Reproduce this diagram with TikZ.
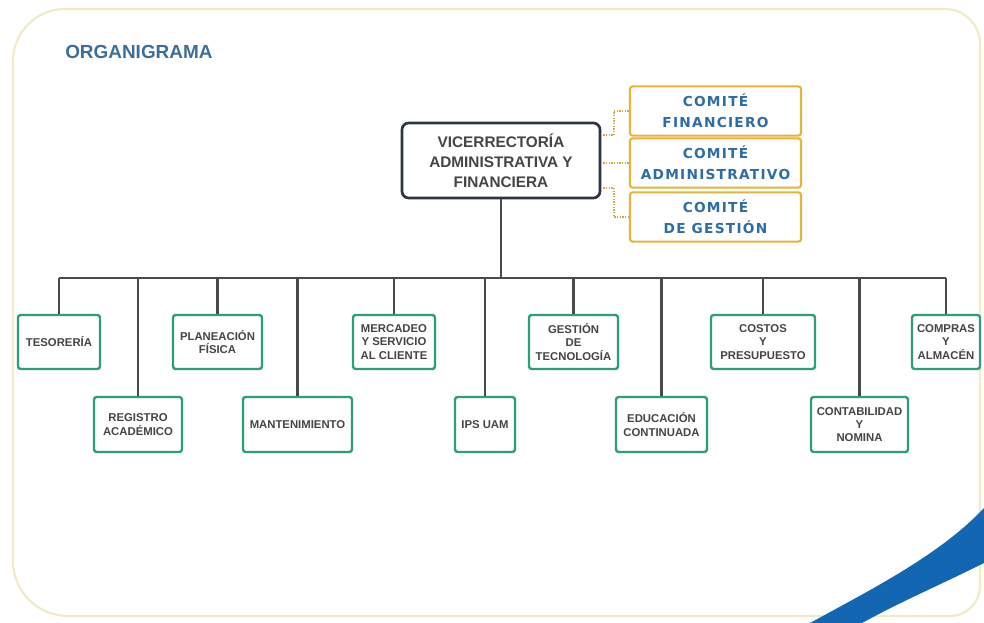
\documentclass[tikz,border=0pt]{standalone}
\usepackage{fontspec}
\setmainfont{Liberation Sans}
\newfontfamily\comfont[LetterSpace=9]{DejaVu Sans}
\usetikzlibrary{calc}
\definecolor{framec}{HTML}{F1EBC4}
\definecolor{titlec}{HTML}{3D6E9B}
\definecolor{vicec}{HTML}{2D3540}
\definecolor{goldc}{HTML}{E3B53A}
\definecolor{comtxt}{HTML}{2E6DA4}
\definecolor{tealc}{HTML}{2E9C7E}
\definecolor{txtg}{HTML}{454545}
\definecolor{linec}{HTML}{4A4A4A}
\definecolor{swoosh}{HTML}{1366B2}
\begin{document}
\begin{tikzpicture}[x=0.75pt,y=-0.75pt,
  childbox/.style={draw=tealc, line width=1.8pt, rounded corners=2pt, fill=white, align=center,
    font=\fontsize{8.5}{10}\selectfont\bfseries, text=txtg, inner sep=1pt},
  vicebox/.style={draw=vicec, line width=2pt, rounded corners=5pt, fill=white, align=center,
    font=\fontsize{11.5}{15}\selectfont\bfseries, text=txtg, minimum width=148.5pt, minimum height=56.25pt},
  combox/.style={draw=goldc, line width=1.6pt, rounded corners=2pt, fill=white, align=center,
    font=\comfont\fontsize{10.3}{15.5}\selectfont\bfseries, text=comtxt, minimum width=128.25pt, minimum height=37pt, inner sep=1pt},
  conn/.style={draw=linec, line width=1.6pt},
  dotc/.style={draw=goldc!80!gray, line width=1pt, densely dotted}]
\useasboundingbox (0,0) rectangle (984,623);
\fill[white] (0,0) rectangle (984,623);
% frame (different corner radii)
\draw[framec, line width=1.6pt]
  (65,9) -- (945,9) arc[start angle=-90, end angle=0, radius=35]
  -- (980,586) arc[start angle=0, end angle=90, radius=30]
  -- (68,616) arc[start angle=90, end angle=180, radius=55]
  -- (13,61) arc[start angle=180, end angle=270, radius=52] -- cycle;
% swoosh
\fill[swoosh] (810,623) .. controls (870,590) and (940,555) .. (984,508) -- (984,563)
  .. controls (940,585) and (900,602) .. (862,623) -- cycle;
% title
\node[font=\fontsize{14.2}{16}\selectfont\bfseries, text=titlec, anchor=west, inner sep=0pt] (title) at (65,52) {ORGANIGRAMA};
% main
\node[vicebox] (vice) at (501,160.5) {VICERRECTORÍA\\ADMINISTRATIVA Y\\FINANCIERA};
% committees
\node[combox] (c1) at (715.5,111) {COMITÉ\\FINANCIERO};
\node[combox] (c2) at (715.5,163) {COMITÉ\\ADMINISTRATIVO};
\node[combox] (c3) at (715.5,217) {COMITÉ\\DE GESTIÓN};
\draw[dotc] ($(vice.east)+(2,-25.5)$) -| ($(c1.west)+(-15,0)$) -- (c1.west);
\draw[dotc] ($(vice.east)+(2,2.5)$) -- (c2.west |- {$(vice.east)+(2,2.5)$});
\draw[dotc] ($(vice.east)+(2,27.5)$) -| ($(c3.west)+(-15,0)$) -- (c3.west);
% children row 1
\node[childbox, minimum width=61.5pt, minimum height=40.5pt] (teso) at (59,342) {TESORERÍA};
\node[childbox, minimum width=66.75pt, minimum height=40.5pt] (plan) at (217.5,342) {PLANEACIÓN\\FÍSICA};
\node[childbox, minimum width=61.5pt, minimum height=40.5pt] (merc) at (394,342) {MERCADEO\\Y SERVICIO\\AL CLIENTE};
\node[childbox, minimum width=66.75pt, minimum height=40.5pt] (gest) at (573.5,342) {GESTIÓN\\DE\\TECNOLOGÍA};
\node[childbox, minimum width=78pt, minimum height=40.5pt] (cost) at (763,342) {COSTOS\\Y\\PRESUPUESTO};
\node[childbox, minimum width=51pt, minimum height=40.5pt] (comp) at (946,342) {COMPRAS\\Y\\ALMACÉN};
% children row 2
\node[childbox, minimum width=66pt, minimum height=41.25pt] (regi) at (138,424.5) {REGISTRO\\ACADÉMICO};
\node[childbox, minimum width=81.75pt, minimum height=41.25pt] (mant) at (297.5,424.5) {MANTENIMIENTO};
\node[childbox, minimum width=45pt, minimum height=41.25pt] (ips) at (485,424.5) {IPS UAM};
\node[childbox, minimum width=68.25pt, minimum height=41.25pt] (educ) at (661.5,424.5) {EDUCACIÓN\\CONTINUADA};
\node[childbox, minimum width=72.75pt, minimum height=41.25pt] (cont) at (859.5,424.5) {CONTABILIDAD\\Y\\NOMINA};
% connectors
\coordinate (bus) at (503,278);
\draw[conn] (vice.south) -- (vice.south |- bus);
\draw[conn] (teso.north |- bus) -- (comp.north |- bus);
\foreach \n in {teso,plan,merc,gest,cost,comp,regi,mant,ips,educ,cont}
  \draw[conn] (\n.north) -- (\n.north |- bus);
\end{tikzpicture}
\end{document}
